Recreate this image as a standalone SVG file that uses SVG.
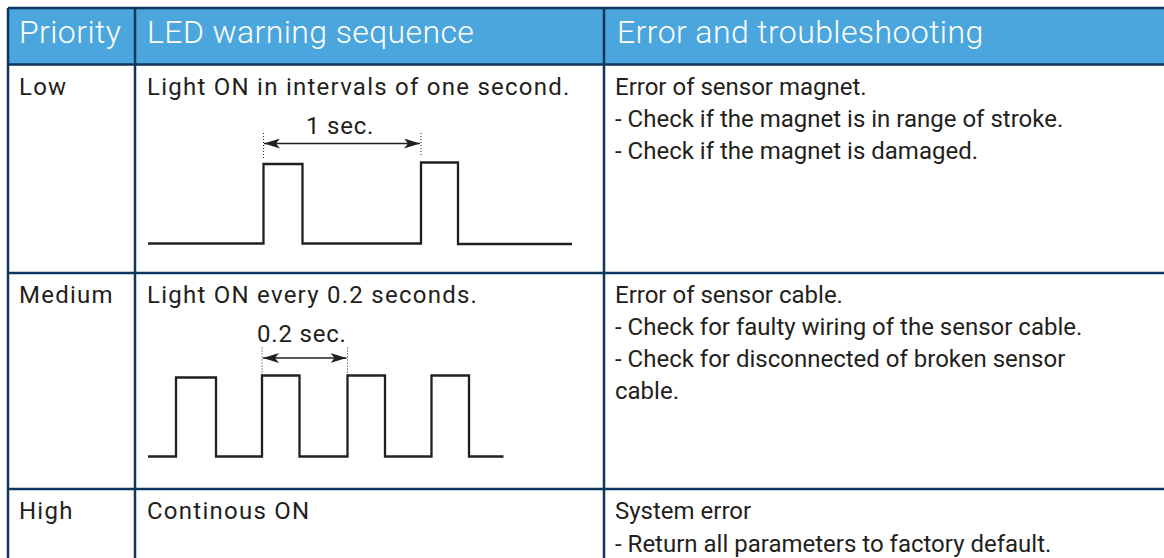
<svg xmlns="http://www.w3.org/2000/svg" width="1164" height="558" viewBox="0 0 1164 558">
<style>
.hd{font-family:Roboto,"Liberation Sans",sans-serif;font-size:32px;font-weight:300;letter-spacing:0.4px;fill:#ffffff}
.tx{font-family:Roboto,"Liberation Sans",sans-serif;font-size:24px;fill:#231f20}
.sp{letter-spacing:1.25px}
.lb{letter-spacing:0.8px}
.grid{stroke:#0e355e;stroke-width:2.5;fill:none}
.wave{stroke:#231f20;stroke-width:2.3;fill:none;stroke-linejoin:miter}
.dim{stroke:#231f20;stroke-width:1.4;fill:none}
.dot{stroke:#231f20;stroke-width:1;stroke-dasharray:1 2;fill:none}
</style>
<defs>
<marker id="ah" viewBox="0 0 16 10" refX="16" refY="5" markerWidth="16" markerHeight="10" markerUnits="userSpaceOnUse" orient="auto-start-reverse">
<path d="M0,0 L16,5 L0,10 L4,5 Z" fill="#231f20"/>
</marker>
</defs>
<rect width="1164" height="558" fill="#ffffff"/>
<g id="header">
<rect x="8" y="8" width="1160" height="56" fill="#4aa6dd"/>
<text class="hd" x="19" y="43">Priority</text>
<text class="hd" x="147" y="43">LED warning sequence</text>
<text class="hd" x="617" y="43">Error and troubleshooting</text>
</g>
<g id="grid">
<path class="grid" d="M8,8 H1168 M8,8 V562 M8,64.5 H1168 M8,273 H1168 M8,489 H1168 M135,8 V562 M604,8 V562"/>
</g>
<g id="row-low">
<text class="tx sp" x="19" y="95">Low</text>
<text class="tx sp" x="147" y="95">Light ON in intervals of one second.</text>
<text class="tx" x="615" y="95">Error of sensor magnet.</text>
<text class="tx" x="615" y="127">- Check if the magnet is in range of stroke.</text>
<text class="tx" x="615" y="159">- Check if the magnet is damaged.</text>
<path class="wave" d="M148,243.5 H263.5 V164 H302.5 V243.5 H421 V162.5 H458 V244 H572"/>
<path class="dot" d="M263.5,133 V158 M421,133 V157"/>
<path class="dim" d="M264,143.5 H420" marker-start="url(#ah)" marker-end="url(#ah)"/>
<text class="tx lb" x="306" y="134">1 sec.</text>
</g>
<g id="row-medium">
<text class="tx sp" x="19" y="303">Medium</text>
<text class="tx sp" x="147" y="303">Light ON every 0.2 seconds.</text>
<text class="tx" x="615" y="303">Error of sensor cable.</text>
<text class="tx" x="615" y="335">- Check for faulty wiring of the sensor cable.</text>
<text class="tx" x="615" y="367">- Check for disconnected of broken sensor</text>
<text class="tx" x="615" y="399">cable.</text>
<path class="wave" d="M148,456.5 H176 V377.5 H216 V456.5 H262 V375.5 H299.5 V456.5 H347.5 V375.5 H385 V456.5 H431.5 V375.5 H469 V456.5 H503.5"/>
<path class="dot" d="M262,347.5 V392 M347.5,347.5 V392"/>
<path class="dim" d="M263,358 H346.5" marker-start="url(#ah)" marker-end="url(#ah)"/>
<text class="tx lb" x="257" y="342">0.2 sec.</text>
</g>
<g id="row-high">
<text class="tx sp" x="19" y="519">High</text>
<text class="tx sp" x="147" y="519">Continous ON</text>
<text class="tx" x="615" y="519">System error</text>
<text class="tx" x="615" y="552">- Return all parameters to factory default.</text>
</g>
</svg>
